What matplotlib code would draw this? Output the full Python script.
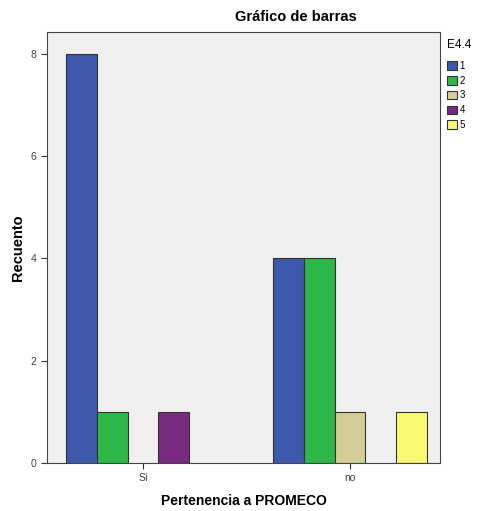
import matplotlib
matplotlib.use("Agg")
import matplotlib.pyplot as plt
from matplotlib.patches import Patch

plt.rcParams['font.family'] = ['Liberation Sans', 'DejaVu Sans']

# Data
groups = ["Sí", "no"]
categories = ["1", "2", "3", "4", "5"]
counts = {
    "1": [8, 4],
    "2": [1, 4],
    "3": [0, 1],
    "4": [1, 0],
    "5": [0, 1],
}
colors = ["#3e58ac", "#2eb848", "#d3ce97", "#782a7e", "#fbf873"]

fig = plt.figure(figsize=(4.8, 5.11), dpi=100)
ax = fig.add_axes([47 / 480, 1 - 463 / 511, 393 / 480, 431 / 511])
ax.set_facecolor("#f0f0f0")

width = 0.148
for i, cat in enumerate(categories):
    offset = (i - 2) * width
    for g, val in enumerate(counts[cat]):
        if val > 0:
            ax.bar(g + offset, val, width=width, color=colors[i],
                   edgecolor="#333333", linewidth=0.8, zorder=2)

ax.set_xlim(-0.464, 1.435)
ax.set_ylim(0, 8.43)
ax.set_xticks(range(len(groups)))
ax.set_xticklabels(groups)
ax.set_yticks([0, 2, 4, 6, 8])
ax.tick_params(axis="both", labelsize=7.5, colors="#333333", labelcolor="#444444",
               length=4, width=0.8)
for s in ax.spines.values():
    s.set_color("#444444")
    s.set_linewidth(0.8)

ax.set_ylabel("Recuento", fontsize=10.5, fontweight="bold")
ax.yaxis.set_label_coords(-0.056, 0.5)
ax.set_xlabel("Pertenencia a PROMECO", fontsize=10, fontweight="bold")
ax.xaxis.set_label_coords(0.5, -0.072)
fig.text(296 / 480, 1 - 17 / 511, "Gráfico de barras", fontsize=10.5,
         fontweight="bold", ha="center", va="center")

handles = [Patch(facecolor=c, edgecolor="#333333", linewidth=0.8) for c in colors]
leg = fig.legend(handles, categories, title="E4.4", loc="upper left",
                 bbox_to_anchor=(447 / 480, 1 - 39 / 511), frameon=False,
                 fontsize=7, title_fontsize=8.5, handlelength=1.0,
                 handleheight=1.0, handletextpad=0.3, labelspacing=0.5,
                 borderaxespad=0, borderpad=0)
leg._legend_box.align = "left"
leg._legend_box.sep = 7

fig.savefig("out.png", dpi=100, facecolor="white")
